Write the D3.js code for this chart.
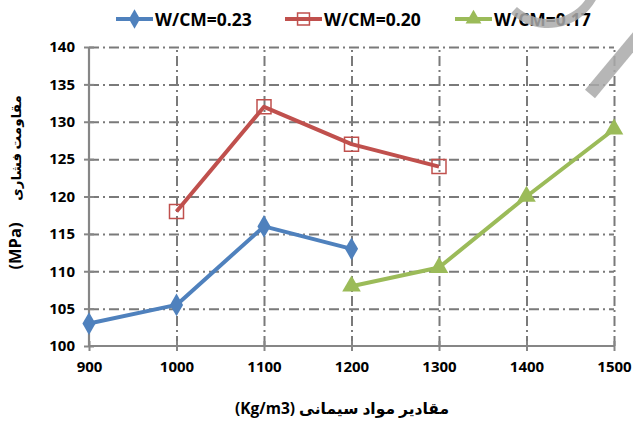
<!DOCTYPE html>
<html><head><meta charset="utf-8">
<script src="https://cdn.jsdelivr.net/npm/d3@7/dist/d3.min.js"></script>
<style>body{margin:0;background:#fff}svg{display:block}</style>
</head><body>
<svg id="c" width="633" height="421"></svg>
<script>
const xTicks = [900,1000,1100,1200,1300,1400,1500];
const yTicks = [100,105,110,115,120,125,130,135,140];
const seriesNames = ["W/CM=0.23","W/CM=0.20","W/CM=0.17"];
const x23 = [900,1000,1100,1200];
const y23 = [103,105.5,116,113];
const x20 = [1000,1100,1200,1300];
const y20 = [118,132,127,124];
const x17 = [1200,1300,1400,1500];
const y17 = [108,110.5,120,129];
const xTitle = "مقادیر مواد سیمانی (Kg/m3)";
const yTitleFa = "مقاومت فشاری";
const yTitleUnit = "(MPa)";

const colors = ["#4F81BD","#C0504D","#9BBB59"];
const svg = d3.select("#c");
const L=89,R=614,T=47,B=346;
const x = d3.scaleLinear().domain([900,1500]).range([L,R]);
const y = d3.scaleLinear().domain([100,140]).range([B,T]);
const font = "'Open Sans','DejaVu Sans',sans-serif";

const yAxis = d3.axisLeft(y).tickValues(yTicks).tickFormat(d3.format("d")).tickSize(5).tickPadding(9);
const ya = svg.append("g").attr("transform",`translate(${L},0)`).call(yAxis);
const xAxis = d3.axisBottom(x).tickValues(xTicks).tickFormat(d3.format("d")).tickSize(5).tickPadding(10);
const xa = svg.append("g").attr("transform",`translate(0,${B})`).call(xAxis);

const yGrid = d3.axisLeft(y).tickValues(yTicks.slice(1)).tickSize(-(R-L)).tickFormat("");
const yg = svg.insert("g",":first-child").attr("transform",`translate(${L},0)`).call(yGrid);
const xGrid = d3.axisBottom(x).tickValues(xTicks.slice(1)).tickSize(-(B-T)).tickFormat("");
const xg = svg.insert("g",":first-child").attr("transform",`translate(0,${B})`).call(xGrid);
[yg,xg].forEach(a=>{
  a.select(".domain").remove();
  a.selectAll(".tick line").attr("stroke","#7a7a7a").attr("stroke-width",2)
   .attr("stroke-dasharray","10,4,2,4");
});

[ya,xa].forEach(a=>{
  a.select(".domain").attr("stroke","#868686").attr("stroke-width",2.2);
  a.selectAll(".tick line").attr("stroke","#868686").attr("stroke-width",2);
  a.selectAll(".tick text").attr("fill","#000").attr("font-family",font)
   .attr("font-weight","bold").attr("font-size","15px");
});
ya.select(".domain").attr("d",`M0,${B}V${T}`);
ya.selectAll(".tick line").attr("x1",5);
xa.select(".domain").attr("d",`M${L},0H${R}`);
xa.selectAll(".tick line").attr("y1",-5);

const data = [[x23,y23],[x20,y20],[x17,y17]].map(([xs,ys])=>xs.map((v,i)=>[v,ys[i]]));
const line = d3.line().x(d=>x(d[0])).y(d=>y(d[1]));
function marker(sel,i,s){
  s = s||1;
  if(i===0){ sel.attr("d",d3.symbol(d3.symbolDiamond,150*s*s)()).attr("fill",colors[0]).attr("stroke","none"); }
  else if(i===1){ const h=7*s; sel.attr("d",`M${-h},${-h}H${h}V${h}H${-h}Z`).attr("fill","none").attr("stroke",colors[1]).attr("stroke-width",1.5); }
  else { sel.attr("d",d3.symbol(d3.symbolTriangle,150*s*s)()).attr("fill",colors[2]).attr("stroke","none"); }
}
data.forEach((d,i)=>{
  svg.append("path").datum(d).attr("d",line).attr("fill","none")
   .attr("stroke",colors[i]).attr("stroke-width",4).attr("stroke-linejoin","round");
  d.forEach(p=>{
    const m = svg.append("path").attr("transform",`translate(${x(p[0])},${y(p[1])})`);
    marker(m,i);
  });
});

const legX = [116,285,455];
seriesNames.forEach((n,i)=>{
  const lg = svg.append("g").attr("transform",`translate(${legX[i]},19)`);
  lg.append("line").attr("x1",0).attr("x2",37).attr("stroke",colors[i]).attr("stroke-width",4);
  const m = lg.append("path").attr("transform","translate(18.5,0)");
  marker(m,i,0.85);
  lg.append("text").attr("x",39).attr("y",6.5).text(n).attr("font-family",font)
   .attr("font-weight","bold").attr("font-size","17.5px").attr("fill","#000");
});

svg.append("text").attr("x",342).attr("y",414).attr("text-anchor","middle")
 .attr("direction","rtl").attr("font-family",font).attr("font-weight","bold")
 .attr("font-size","15.5px").text(xTitle);
const yt = svg.append("g").attr("transform","translate(21,0) rotate(-90)");
yt.append("text").attr("x",-148).attr("y",0).attr("text-anchor","middle")
 .attr("direction","rtl").attr("font-family",font).attr("font-weight","bold")
 .attr("font-size","13.5px").text(yTitleFa);
yt.append("text").attr("x",-246).attr("y",0).attr("text-anchor","middle")
 .attr("font-family",font).attr("font-weight","bold")
 .attr("font-size","16.5px").text(yTitleUnit);

svg.append("path").attr("d",d3.arc().innerRadius(46).outerRadius(55).startAngle(-2.4).endAngle(-4.2)())
 .attr("transform","translate(548,-27)").attr("fill","#aaa").attr("opacity",0.85);
svg.append("line").attr("x1",640).attr("y1",34).attr("x2",590).attr("y2",94)
 .attr("stroke","#aaa").attr("stroke-width",13).attr("opacity",0.85);
</script>
</body></html>
